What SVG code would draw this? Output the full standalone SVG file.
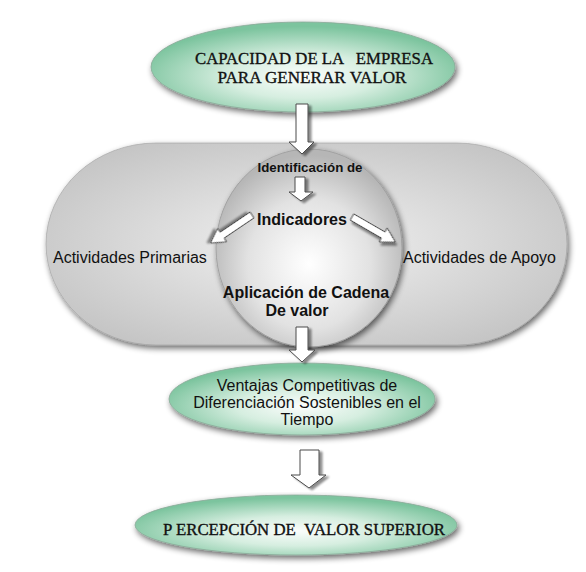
<svg xmlns="http://www.w3.org/2000/svg" width="586" height="572" viewBox="0 0 586 572">
<defs>
  <radialGradient id="green" cx="50%" cy="60%" r="55%">
    <stop offset="0" stop-color="#fbfdfc"/>
    <stop offset="0.45" stop-color="#d6eee0"/>
    <stop offset="1" stop-color="#7cc49e"/>
  </radialGradient>
  <radialGradient id="grayRect" cx="50%" cy="50%" r="60%">
    <stop offset="0" stop-color="#f2f2f2"/>
    <stop offset="1" stop-color="#c4c4c4"/>
  </radialGradient>
  <radialGradient id="grayCircle" cx="50%" cy="58%" r="55%">
    <stop offset="0" stop-color="#ffffff"/>
    <stop offset="0.6" stop-color="#e2e2e2"/>
    <stop offset="1" stop-color="#b6b6b6"/>
  </radialGradient>
  <filter id="shadow" x="-10%" y="-10%" width="125%" height="130%">
    <feGaussianBlur in="SourceAlpha" stdDeviation="3"/>
    <feOffset dx="2" dy="3" result="b"/>
    <feComponentTransfer><feFuncA type="linear" slope="0.6"/></feComponentTransfer>
    <feMerge><feMergeNode/><feMergeNode in="SourceGraphic"/></feMerge>
  </filter>
  <filter id="ashadow" x="-30%" y="-30%" width="170%" height="170%">
    <feGaussianBlur in="SourceAlpha" stdDeviation="1"/>
    <feOffset dx="3" dy="2"/>
    <feComponentTransfer><feFuncA type="linear" slope="0.45"/></feComponentTransfer>
    <feMerge><feMergeNode/><feMergeNode in="SourceGraphic"/></feMerge>
  </filter>
</defs>
<style>
  .serif{font-family:"Liberation Serif","Times New Roman",serif;fill:#111;stroke:#111;stroke-width:0.35;}
  .sans{font-family:"Liberation Sans",Arial,sans-serif;fill:#111;}
  .bold{font-weight:bold;}
  .arrow{fill:#ffffff;stroke:#4a4a4a;stroke-width:1;filter:url(#ashadow);}
  .gellipse{fill:url(#green);stroke:#8aa898;stroke-width:0.8;filter:url(#shadow);}
</style>

<g id="node-actividades">
  <rect x="46" y="143" width="521" height="202" rx="110" ry="101" fill="url(#grayRect)" stroke="#a0a0a0" stroke-width="0.6" filter="url(#shadow)"/>
  <text class="sans" x="53" y="263" font-size="16">Actividades Primarias</text>
  <text class="sans" x="403" y="263" font-size="16">Actividades de Apoyo</text>
</g>

<g id="node-cadena">
  <ellipse cx="309" cy="248" rx="93" ry="99" fill="url(#grayCircle)" stroke="#9a9a9a" stroke-width="0.8" filter="url(#shadow)"/>
  <text class="sans bold" x="310" y="172" font-size="13.5" text-anchor="middle" textLength="105" lengthAdjust="spacingAndGlyphs">Identificación de</text>
  <text class="sans bold" x="302" y="225" font-size="16" text-anchor="middle">Indicadores</text>
  <text class="sans bold" x="306" y="298" font-size="16" text-anchor="middle">Aplicación de Cadena</text>
  <text class="sans bold" x="297" y="316" font-size="16" text-anchor="middle">De valor</text>
</g>

<g id="node-capacidad">
  <ellipse cx="303" cy="67" rx="152" ry="45" class="gellipse"/>
  <text class="serif" x="314" y="64" font-size="17" text-anchor="middle" textLength="238" lengthAdjust="spacingAndGlyphs" xml:space="preserve">CAPACIDAD DE LA   EMPRESA</text>
  <text class="serif" x="312" y="83" font-size="17" text-anchor="middle" textLength="189" lengthAdjust="spacingAndGlyphs">PARA GENERAR VALOR</text>
</g>

<g id="node-ventajas">
  <ellipse cx="302" cy="399" rx="133" ry="36" class="gellipse"/>
  <text class="sans" x="307" y="391" font-size="16" text-anchor="middle">Ventajas Competitivas de</text>
  <text class="sans" x="307" y="408" font-size="16" text-anchor="middle">Diferenciación Sostenibles en el</text>
  <text class="sans" x="307" y="425" font-size="16" text-anchor="middle">Tiempo</text>
</g>

<g id="node-percepcion">
  <ellipse cx="296" cy="525" rx="161" ry="30" class="gellipse"/>
  <text class="serif" x="304" y="535" font-size="17" text-anchor="middle" textLength="282" lengthAdjust="spacingAndGlyphs" xml:space="preserve">P ERCEPCIÓN DE  VALOR SUPERIOR</text>
</g>

<g id="connectors">
  <path class="arrow" d="M296,104 L308,104 L308,142 L314,142 L302,154 L289,142 L296,142 Z"/>
  <path class="arrow" d="M295,177 L305,177 L305,192 L313,192 L301,201 L289,192 L295,192 Z"/>
  <path class="arrow" d="M0,-3.5 L36,-3.5 L36,-8 L50,0 L36,8 L36,3.5 L0,3.5 Z" transform="translate(252,215) rotate(146)"/>
  <path class="arrow" d="M0,-3.5 L36,-3.5 L36,-8 L50,0 L36,8 L36,3.5 L0,3.5 Z" transform="translate(352,217) rotate(30)"/>
  <path class="arrow" d="M296,327 L308,327 L308,350 L315,350 L302,362 L289,350 L296,350 Z"/>
  <path class="arrow" d="M300,450 L319,450 L319,475 L326,475 L309,488 L291,475 L300,475 Z"/>
</g>
</svg>
